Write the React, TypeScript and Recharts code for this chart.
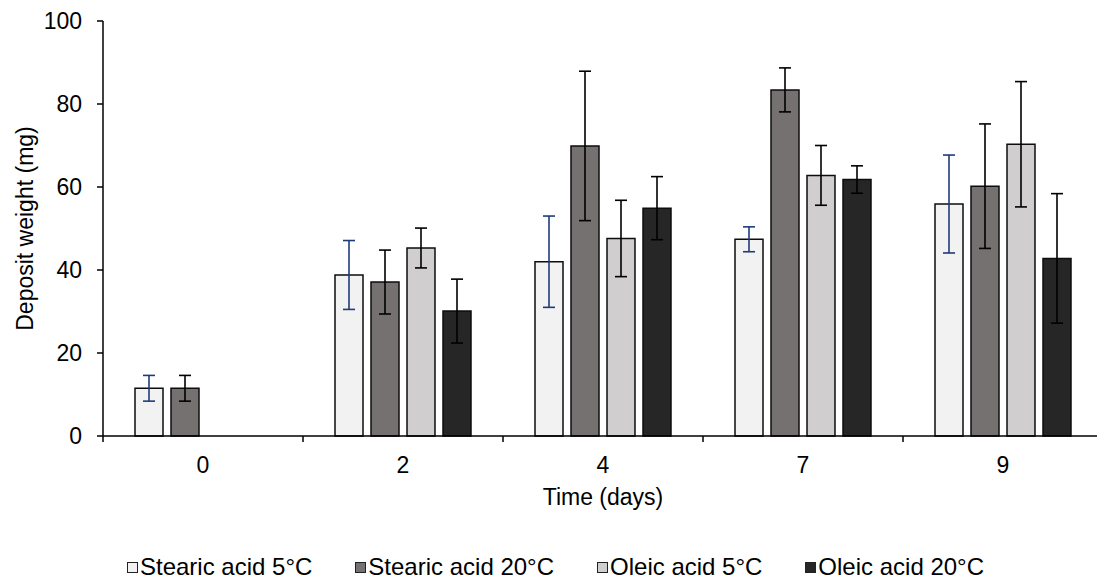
import React from 'react';
import { BarChart, Bar, XAxis, YAxis, ErrorBar } from 'recharts';

const days = ['0', '2', '4', '7', '9'];
const stearic5 = [11.5, 38.8, 42.0, 47.4, 55.9];
const stearic5Err = [3.1, 8.3, 11.0, 3.0, 11.8];
const stearic20 = [11.5, 37.1, 69.9, 83.4, 60.2];
const stearic20Err = [3.1, 7.7, 18.0, 5.3, 15.0];
const oleic5 = [null, 45.3, 47.6, 62.8, 70.3];
const oleic5Err = [null, 4.8, 9.2, 7.2, 15.1];
const oleic20 = [null, 30.1, 54.9, 61.8, 42.8];
const oleic20Err = [null, 7.7, 7.6, 3.3, 15.6];
const yTicks = [0, 20, 40, 60, 80, 100];

const FONT = '"Liberation Sans", Arial, sans-serif';

const series = [
  { key: 's5', name: 'Stearic acid 5°C', fill: '#F2F2F2', err: '#1F3B7A' },
  { key: 's20', name: 'Stearic acid 20°C', fill: '#767171', err: '#000000' },
  { key: 'o5', name: 'Oleic acid 5°C', fill: '#D0CECE', err: '#000000' },
  { key: 'o20', name: 'Oleic acid 20°C', fill: '#262626', err: '#000000' },
];

const data = days.map((d, i) => ({
  day: d,
  s5: stearic5[i],
  s5Err: stearic5Err[i],
  s20: stearic20[i],
  s20Err: stearic20Err[i],
  o5: oleic5[i],
  o5Err: oleic5Err[i],
  o20: oleic20[i],
  o20Err: oleic20Err[i],
}));

// label in the middle of the band, tick mark on the band's left edge
const DayTick = (props: any) => {
  const { x, y, payload } = props;
  const half = payload && payload.offset ? payload.offset : 100;
  return (
    <g>
      <line x1={x - half} x2={x - half} y1={y - 21} y2={y - 15} stroke="#000" strokeWidth={1.5} />
      <text x={x} y={y} dy="0.71em" textAnchor="middle" fill="#000" fontSize={23} fontFamily={FONT}>
        {payload.value}
      </text>
    </g>
  );
};

export default function App() {
  return (
    <div style={{ position: 'absolute', left: 0, top: 0, width: 1097, height: 580, overflow: 'hidden', background: '#fff' }}>
      <BarChart
        width={1110}
        height={520}
        data={data}
        margin={{ top: 21, right: 7, left: 0, bottom: 0 }}
        barSize={28}
        barGap={8}
      >
        <XAxis
          dataKey="day"
          height={84}
          tickLine={false}
          tickSize={6}
          tickMargin={15}
          axisLine={{ stroke: '#000', strokeWidth: 1.5 }}
          tick={<DayTick />}
          interval={0}
          label={{ value: 'Time (days)', position: 'insideBottom', offset: 15, style: { fontSize: 23, fill: '#000', fontFamily: FONT } }}
        />
        <YAxis
          width={103}
          domain={[0, 100]}
          ticks={yTicks}
          tickSize={6}
          tickMargin={15}
          tickLine={{ stroke: '#000', strokeWidth: 1.5 }}
          axisLine={{ stroke: '#000', strokeWidth: 1.5 }}
          tick={{ fontSize: 23, fill: '#000', fontFamily: FONT }}
          label={{ value: 'Deposit weight (mg)', angle: -90, position: 'insideLeft', offset: 25, style: { fontSize: 23, fill: '#000', fontFamily: FONT, textAnchor: 'middle' } }}
        />
        {series.map(s => (
          <Bar key={s.key} dataKey={s.key} name={s.name} fill={s.fill} stroke="#0d0d0d" strokeWidth={1.5} isAnimationActive={false}>
            <ErrorBar dataKey={s.key + 'Err'} width={6} stroke={s.err} strokeWidth={1.6} isAnimationActive={false} />
          </Bar>
        ))}
      </BarChart>
      <div
        style={{
          position: 'absolute',
          left: 127,
          top: 553,
          display: 'flex',
          gap: 43,
          fontFamily: FONT,
          fontSize: 24,
          lineHeight: '28px',
          color: '#000',
          whiteSpace: 'nowrap',
        }}
      >
        {series.map(s => (
          <div key={s.key} style={{ display: 'flex', alignItems: 'center' }}>
            <span style={{ display: 'inline-block', width: 9, height: 9, background: s.fill, border: '1px solid #222', marginRight: 2 }} />
            <span>{s.name}</span>
          </div>
        ))}
      </div>
    </div>
  );
}
